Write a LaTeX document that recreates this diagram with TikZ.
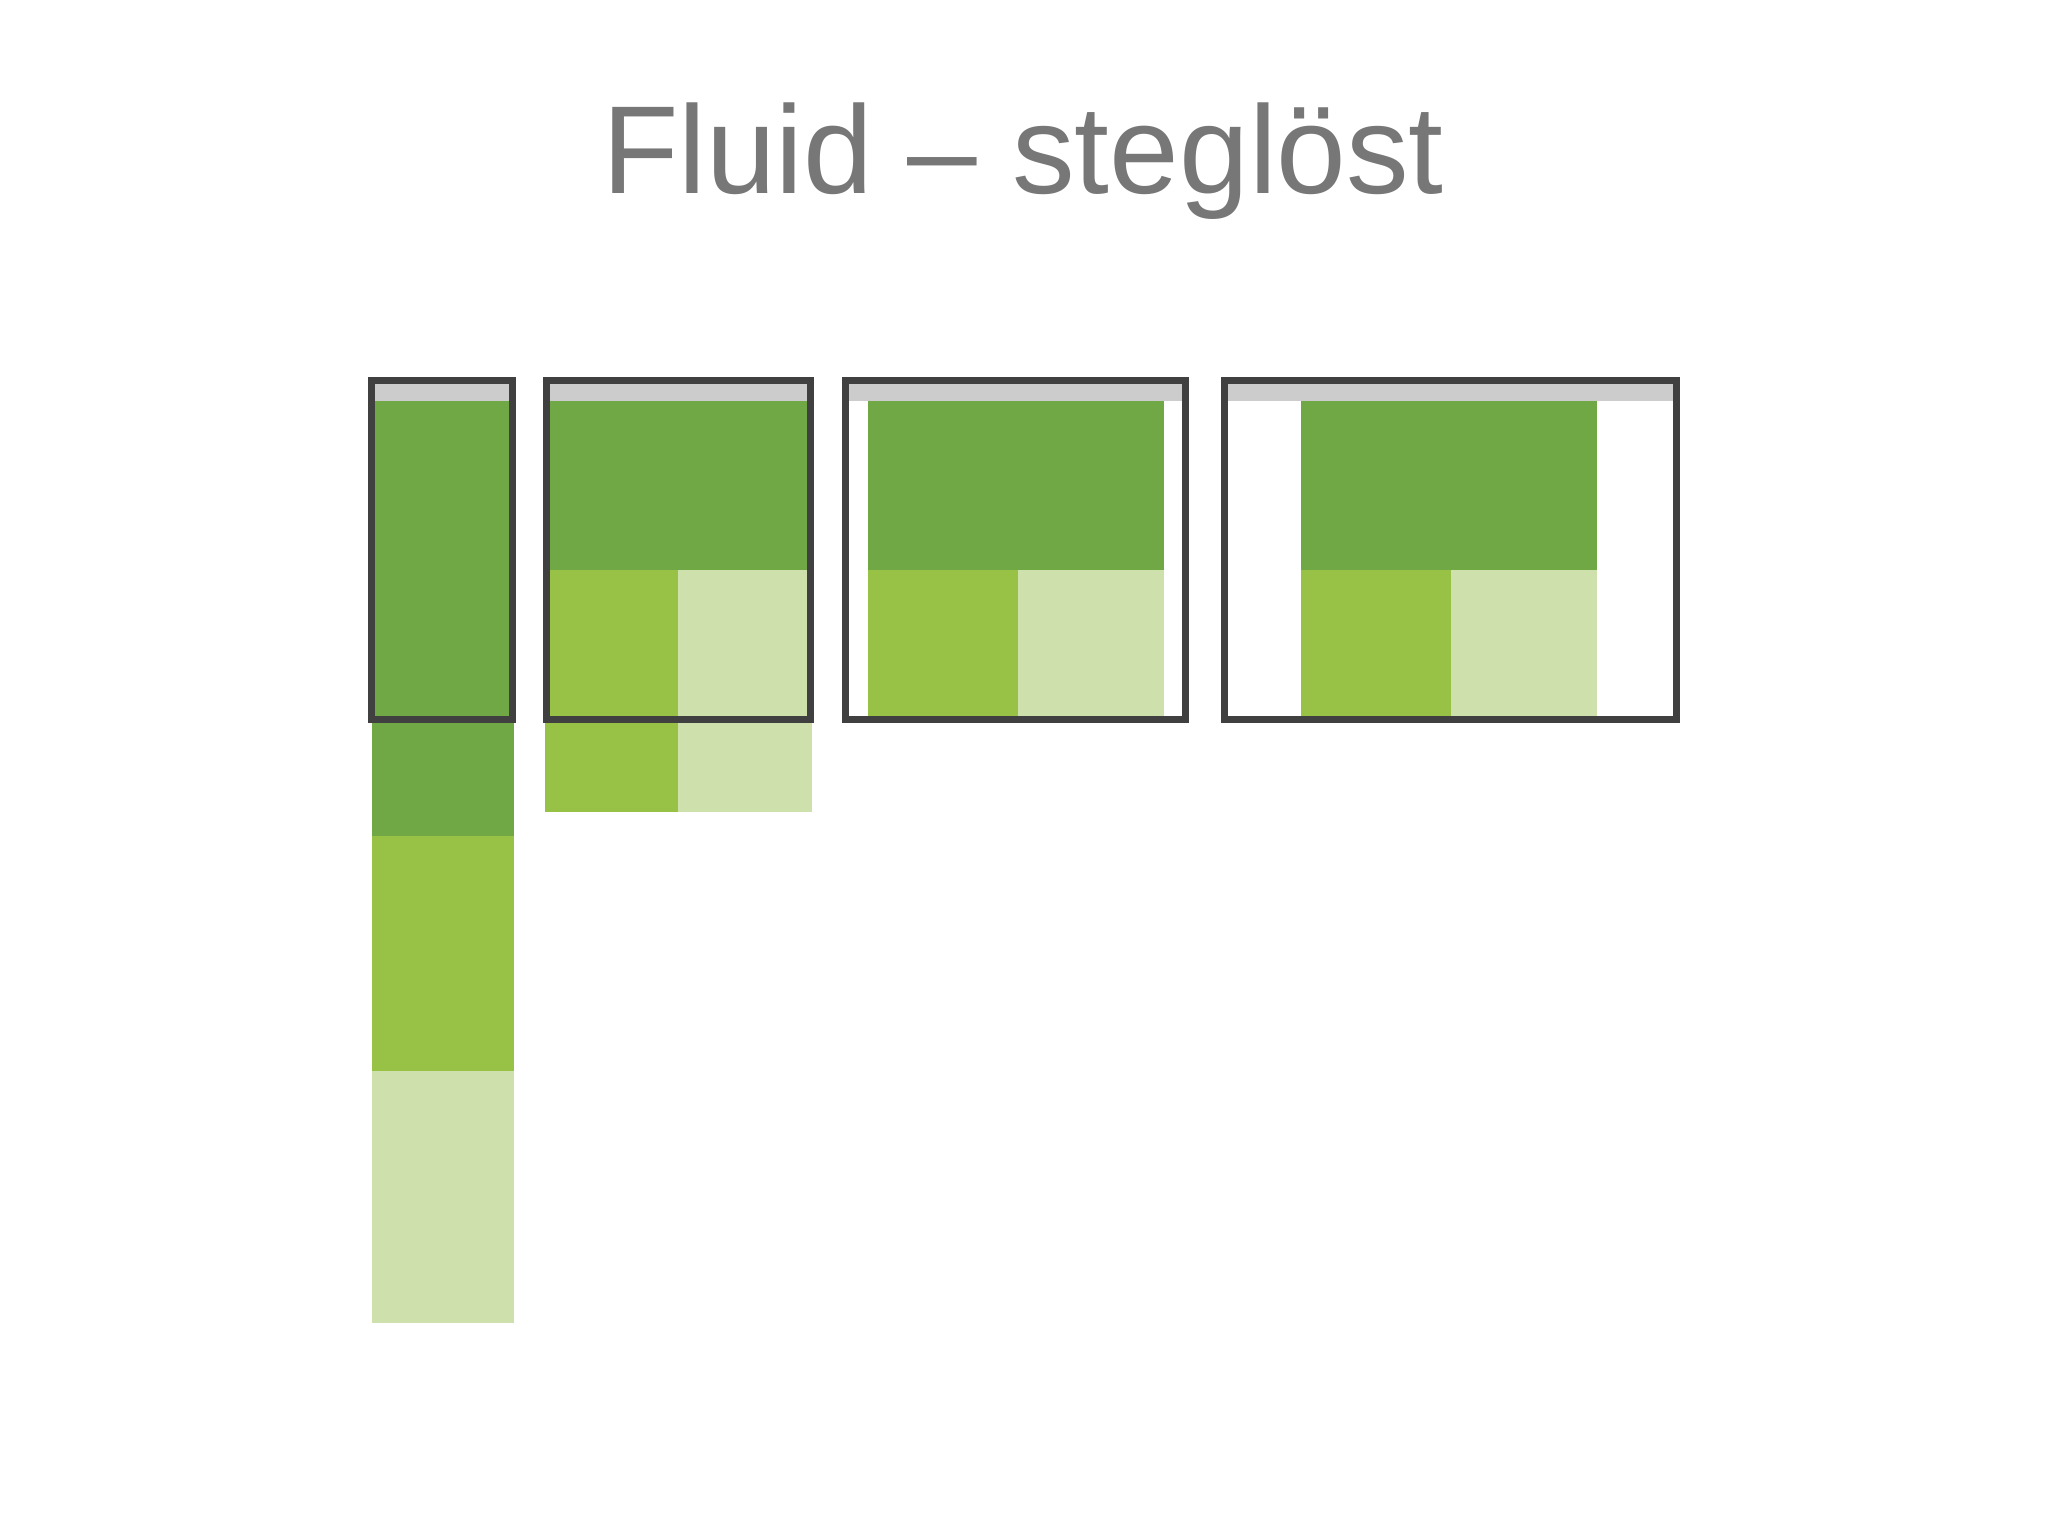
\documentclass[tikz,border=0pt]{standalone}
\usepackage{fontspec}
\setmainfont{Liberation Sans}
\definecolor{dkgreen}{HTML}{6FA845}
\definecolor{mdgreen}{HTML}{98C246}
\definecolor{plgreen}{HTML}{CEE0AC}
\definecolor{barg}{HTML}{CCCCCC}
\definecolor{frameg}{HTML}{404040}
\definecolor{titleg}{HTML}{777777}
\tikzset{
  dk/.style={fill=dkgreen},
  md/.style={fill=mdgreen},
  pl/.style={fill=plgreen},
  bar/.style={fill=barg},
  frm/.style={draw=frameg, line width=0.07cm},
  titletext/.style={text=titleg, font=\fontsize{35.6}{43}\selectfont, inner sep=0pt}
}
\begin{document}
\begin{tikzpicture}[x=0.01cm, y=-0.01cm]
\useasboundingbox[fill=white] (0,0) rectangle (2048,1536);
\node[titletext, anchor=base] (title) at (1023,193) {Fluid – steglöst};

% Frame 1: narrow, content overflows far below
\path[bar] (372,383) rectangle (514,401);
\path[dk] (372,401) rectangle (514,836);
\path[md] (372,836) rectangle (514,1071);
\path[pl] (372,1071) rectangle (514,1323);
\draw[frm] (371.5,380.5) rectangle (512.5,719.5);

% Frame 2
\path[bar] (545,383) rectangle (812,401);
\path[dk] (545,401) rectangle (812,570);
\path[md] (545,570) rectangle (678,812);
\path[pl] (678,570) rectangle (812,812);
\draw[frm] (546.5,380.5) rectangle (810.5,719.5);

% Frame 3
\path[bar] (846,383) rectangle (1186,401);
\path[dk] (868,401) rectangle (1164,570);
\path[md] (868,570) rectangle (1018,717);
\path[pl] (1018,570) rectangle (1164,717);
\draw[frm] (845.5,380.5) rectangle (1185.5,719.5);

% Frame 4
\path[bar] (1225,383) rectangle (1676,401);
\path[dk] (1301,401) rectangle (1597,570);
\path[md] (1301,570) rectangle (1451,717);
\path[pl] (1451,570) rectangle (1597,717);
\draw[frm] (1224.5,380.5) rectangle (1676.5,719.5);
\end{tikzpicture}
\end{document}
